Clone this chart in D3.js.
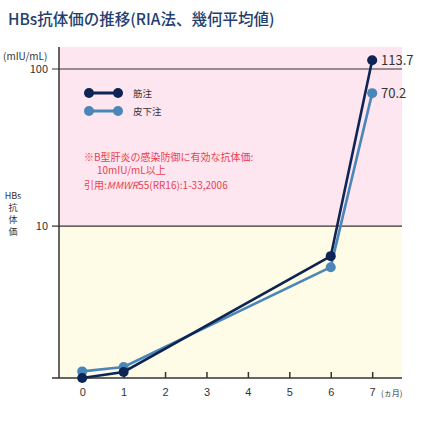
<!DOCTYPE html>
<html><head><meta charset="utf-8">
<script src="https://cdn.jsdelivr.net/npm/d3@7"></script>
<style>body{margin:0;background:#fff;font-family:"Noto Sans CJK JP","Noto Sans",sans-serif}</style>
</head><body><svg id="c" width="430" height="422"></svg>
<script>
//data
var months = [0, 1, 6, 7];
var imValues = [1.08, 1.18, 6.44, 113.7];   // 筋注
var scValues = [1.19, 1.27, 5.48, 70.2];    // 皮下注
var xTicks = [0, 1, 2, 3, 4, 5, 6, 7];
var yTicks = [10, 100];
var series = [
	{name: '皮下注', values: scValues, color: '#4a86b8'},
	{name: '筋注', values: imValues, color: '#0d2454'}
];

var svg = d3.select('#c');
var x = d3.scaleLinear().domain([-0.56, 7.72]).range([59, 402]);
var y = d3.scaleLog().domain([1.08, 138]).range([378, 47]);

//background bands
svg.append('rect').attr('x', 59).attr('y', y(138)).attr('width', 343).attr('height', y(10) - y(138)).attr('fill', '#fde6ef');
svg.append('rect').attr('x', 59).attr('y', y(10)).attr('width', 343).attr('height', y(1.08) - y(10)).attr('fill', '#fefbe6');

//grid lines
yTicks.forEach(function(t){
	svg.append('line').attr('x1', 52).attr('x2', 402).attr('y1', y(t)).attr('y2', y(t)).attr('stroke', '#333').attr('stroke-width', 1.2);
	svg.append('text').attr('x', 48).attr('y', y(t) + 4).attr('text-anchor', 'end').attr('font-size', 11).attr('fill', '#333').text(t);
});

//axes
svg.append('line').attr('x1', 59).attr('x2', 59).attr('y1', 47).attr('y2', 378).attr('stroke', '#333').attr('stroke-width', 1.5);
var xa = svg.append('g').attr('transform', 'translate(0,378)')
	.call(d3.axisBottom(x).tickValues(xTicks).tickSize(6).tickSizeOuter(0));
xa.select('.domain').remove();
xa.append('line').attr('x1', 52).attr('x2', 402).attr('stroke', '#333').attr('stroke-width', 1.5);
xa.selectAll('.tick line').attr('y1', -6).attr('y2', 0).attr('stroke', '#333').attr('stroke-width', 1.5);
xa.selectAll('.tick text').attr('y', 10).attr('font-size', 11).attr('fill', '#333').attr('font-family', 'inherit');
svg.append('text').attr('x', 381).attr('y', 396).attr('font-size', 8).attr('fill', '#333').text('(ヵ月)');

//axis labels
svg.append('text').attr('x', 3).attr('y', 60).attr('font-size', 10).attr('fill', '#333').text('(mIU/mL)');
['HBs', '抗', '体', '価'].forEach(function(s, i){
	svg.append('text').attr('x', 13).attr('y', 199 + i * 12).attr('text-anchor', 'middle').attr('font-size', 9).attr('fill', '#333').text(s);
});

//title
svg.append('text').attr('x', 8).attr('y', 25).attr('font-size', 15.5).attr('font-weight', 500).attr('fill', '#24406e').text('HBs抗体価の推移(RIA法、幾何平均値)');

//lines
var line = d3.line().x(function(d, i){ return x(months[i]); }).y(function(d){ return y(d); });
series.forEach(function(s){
	svg.append('path').attr('d', line(s.values)).attr('fill', 'none').attr('stroke', s.color).attr('stroke-width', 2.6);
	s.values.forEach(function(v, i){
		svg.append('circle').attr('cx', x(months[i])).attr('cy', y(v)).attr('r', 5).attr('fill', s.color);
	});
});
svg.append('text').attr('x', 381).attr('y', y(113.7) + 5).attr('font-size', 13).attr('fill', '#333').text('113.7');
svg.append('text').attr('x', 381).attr('y', y(70.2) + 5).attr('font-size', 13).attr('fill', '#333').text('70.2');

//legend
[{n: '筋注', c: '#0d2454'}, {n: '皮下注', c: '#4a86b8'}].forEach(function(l, i){
	var ly = 93 + i * 18;
	svg.append('line').attr('x1', 89).attr('x2', 118).attr('y1', ly).attr('y2', ly).attr('stroke', l.c).attr('stroke-width', 3);
	svg.append('circle').attr('cx', 89).attr('cy', ly).attr('r', 5).attr('fill', l.c);
	svg.append('circle').attr('cx', 118).attr('cy', ly).attr('r', 5).attr('fill', l.c);
	svg.append('text').attr('x', 133).attr('y', ly + 4).attr('font-size', 9.5).attr('fill', '#333').text(l.n);
});

//note
var red = '#ec3f4f';
svg.append('text').attr('x', 84).attr('y', 161).attr('font-size', 10).attr('fill', red).text('※B型肝炎の感染防御に有効な抗体価:');
svg.append('text').attr('x', 97).attr('y', 174).attr('font-size', 10).attr('fill', red).text('10mIU/mL以上');
var t = svg.append('text').attr('x', 84).attr('y', 189).attr('font-size', 10).attr('fill', red);
t.append('tspan').text('引用:');
t.append('tspan').attr('font-style', 'italic').text('MMWR');
t.append('tspan').text('55(RR16):1-33,2006');
</script></body></html>
